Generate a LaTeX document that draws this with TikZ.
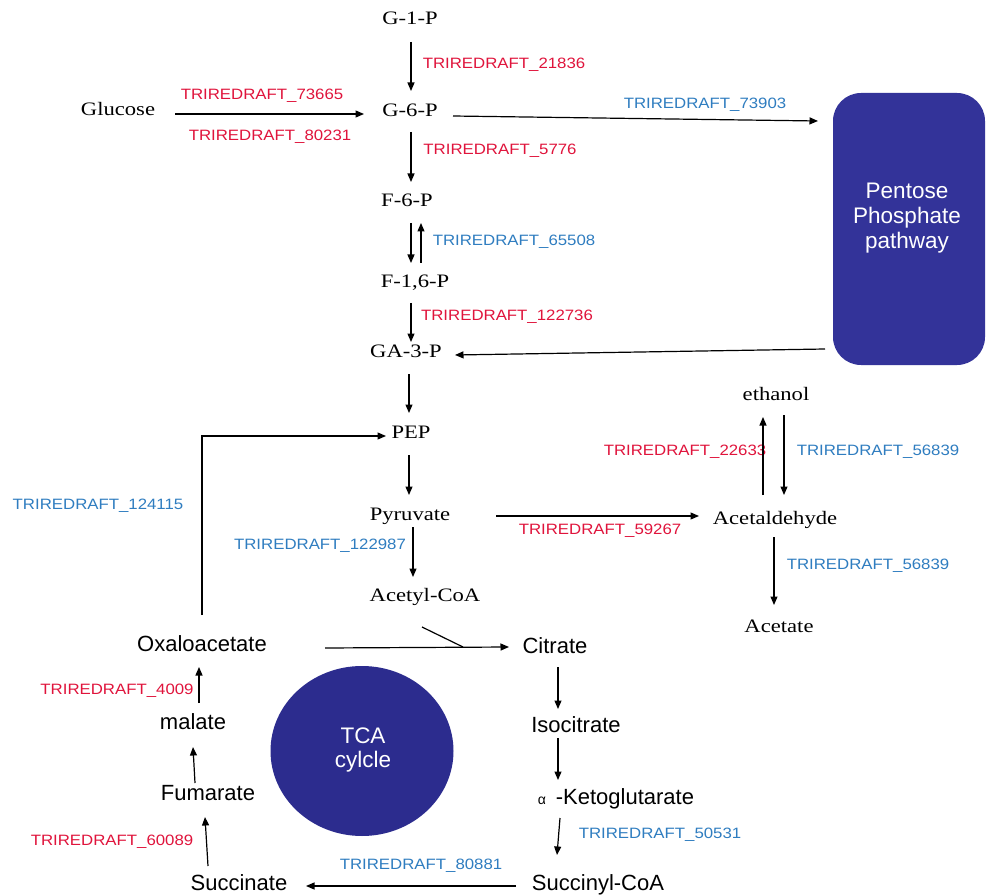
\documentclass[tikz,border=0pt]{standalone}
\usepackage{fontspec}
\usetikzlibrary{arrows.meta,shapes.geometric}
\newfontfamily\chemfont[FakeStretch=1.19]{Liberation Serif}
\newfontfamily\labfont[FakeStretch=1.12]{Liberation Sans}
\newfontfamily\namefont{Liberation Sans}
\definecolor{labred}{HTML}{E0143C}
\definecolor{labblue}{HTML}{2F7DC0}
\definecolor{boxblue}{HTML}{333399}
\definecolor{tcablue}{HTML}{2C2C8E}
\tikzset{
  chem/.style={inner sep=0pt, text height=12.5pt, text depth=4pt, font=\chemfont\fontsize{19}{21}\selectfont},
  sname/.style={inner sep=0pt, text height=15pt, text depth=4pt, font=\namefont\fontsize{22}{24}\selectfont},
  redlab/.style={inner sep=0pt, text=labred, font=\labfont\fontsize{15}{17}\selectfont},
  bluelab/.style={inner sep=0pt, text=labblue, font=\labfont\fontsize{15}{17}\selectfont},
  arr/.style={line width=1.2pt, -{Triangle[length=8.5pt,width=7pt]}},
  plainline/.style={line width=1.2pt},
  whitetext/.style={text=white, font=\namefont\fontsize{22.5}{26}\selectfont, align=center}
}
\begin{document}
\begin{tikzpicture}[x=1pt,y=-1pt]
\fill[white] (0,0) rectangle (986,896);
\useasboundingbox (0,0) rectangle (986,896);

% pathway boxes
\node[draw=none, fill=boxblue, rounded corners=28pt, minimum width=152pt, minimum height=272pt, inner sep=0pt] (ppp) at (909,229) {};
\node[whitetext, inner sep=0pt] (ppptext) at (907,218) {Pentose\\[-1pt]Phosphate\\[-1pt]pathway};
\node[ellipse, fill=tcablue, minimum width=183pt, minimum height=170pt, inner sep=0pt] (tca) at (362,751) {};
\node[whitetext, inner sep=0pt] (tcatext) at (363,750) {TCA\\[-2pt]cylcle};

% metabolites (serif)
\node[chem] (g1p) at (410,20) {G-1-P};
\node[chem] (glc) at (118,111) {Glucose};
\node[chem] (g6p) at (410,112) {G-6-P};
\node[chem] (f6p) at (407,202) {F-6-P};
\node[chem] (f16p) at (415,283) {F-1,6-P};
\node[chem] (ga3p) at (406,353) {GA-3-P};
\node[chem] (pep) at (411,434) {PEP};
\node[chem] (pyr) at (410,516) {Pyruvate};
\node[chem] (acoa) at (425,597) {Acetyl-CoA};
\node[chem] (eth) at (776,396) {ethanol};
\node[chem] (ald) at (775,520) {Acetaldehyde};
\node[chem] (ace) at (779,628) {Acetate};

% TCA metabolites (sans)
\node[sname] (oaa) at (202,646) {Oxaloacetate};
\node[sname] (cit) at (555,648) {Citrate};
\node[sname] (iso) at (576,727) {Isocitrate};
\node[sname] (akg) at (616,799) {{\fontsize{14}{16}\selectfont α}\, -Ketoglutarate};
\node[sname] (scoa) at (598,885) {Succinyl-CoA};
\node[sname] (suc) at (239,885) {Succinate};
\node[sname] (fum) at (208,795) {Fumarate};
\node[sname] (mal) at (193,724) {malate};

% enzyme labels
\node[redlab] (l21836) at (504,65) {TRIREDRAFT\_21836};
\node[redlab] (l73665) at (262,96) {TRIREDRAFT\_73665};
\node[redlab] (l80231) at (270,137) {TRIREDRAFT\_80231};
\node[bluelab] (l73903) at (705,105) {TRIREDRAFT\_73903};
\node[redlab] (l5776) at (500,151) {TRIREDRAFT\_5776};
\node[bluelab] (l65508) at (514,242) {TRIREDRAFT\_65508};
\node[redlab] (l122736) at (507,317) {TRIREDRAFT\_122736};
\node[bluelab] (l124115) at (98,506) {TRIREDRAFT\_124115};
\node[bluelab] (l122987) at (320,546) {TRIREDRAFT\_122987};
\node[redlab] (l59267) at (600,531) {TRIREDRAFT\_59267};
\node[redlab] (l22633) at (685,452) {TRIREDRAFT\_22633};
\node[bluelab] (l56839a) at (878,452) {TRIREDRAFT\_56839};
\node[bluelab] (l56839b) at (868,566) {TRIREDRAFT\_56839};
\node[redlab] (l4009) at (117,691) {TRIREDRAFT\_4009};
\node[redlab] (l60089) at (112,842) {TRIREDRAFT\_60089};
\node[bluelab] (l80881) at (421,866) {TRIREDRAFT\_80881};
\node[bluelab] (l50531) at (660,835) {TRIREDRAFT\_50531};

% glycolysis connectors
\draw[arr] ([shift={(1,22)}]g1p.center) -- ([shift={(1,-21)}]g6p.center);
\draw[arr] ([shift={(57,3)}]glc.center) -- ([shift={(-46,2)}]g6p.center);
\draw[arr] ([shift={(43,4)}]g6p.center) -- ([shift={(-91,-108)}]ppp.center);
\draw[arr] ([shift={(1,20)}]g6p.center) -- ([shift={(4,-20)}]f6p.center);
\draw[arr] ([shift={(4,21)}]f6p.center) -- ([shift={(-4,-20)}]f16p.center);
\draw[arr] ([shift={(6,-20)}]f16p.center) -- ([shift={(14,21)}]f6p.center);
\draw[arr] ([shift={(-4,20)}]f16p.center) -- ([shift={(5,-11)}]ga3p.center);
\draw[arr] ([shift={(-84,120)}]ppp.center) -- ([shift={(49,2)}]ga3p.center);
\draw[arr] ([shift={(3,21)}]ga3p.center) -- ([shift={(-2,-21)}]pep.center);
\draw[arr] ([shift={(0,-31)}]oaa.center) |- ([shift={(-25,2)}]pep.center);
\draw[arr] ([shift={(-2,21)}]pep.center) -- ([shift={(-1,-21)}]pyr.center);
\draw[arr] ([shift={(3,11)}]pyr.center) -- ([shift={(-12,-20)}]acoa.center);
\draw[arr] ([shift={(86,0)}]pyr.center) -- ([shift={(-76,-4)}]ald.center);
\draw[arr] ([shift={(-12,-25)}]ald.center) -- ([shift={(-13,21)}]eth.center);
\draw[arr] ([shift={(8,19)}]eth.center) -- ([shift={(9,-25)}]ald.center);
\draw[arr] ([shift={(-1,17)}]ald.center) -- ([shift={(-5,-23)}]ace.center);

% TCA connectors
\coordinate (mrg) at (463,647);
\draw[arr] ([shift={(123,2)}]oaa.center) -- ([shift={(-46,-1)}]cit.center);
\draw[plainline] ([shift={(-3,30)}]acoa.center) -- (mrg);
\draw[arr] ([shift={(3,19)}]cit.center) -- ([shift={(-18,-18)}]iso.center);
\draw[arr] ([shift={(-18,11)}]iso.center) -- ([shift={(-58,-19)}]akg.center);
\draw[arr] ([shift={(-56,19)}]akg.center) -- ([shift={(-41,-30)}]scoa.center);
\draw[arr] ([shift={(-82,1)}]scoa.center) -- ([shift={(67,1)}]suc.center);
\draw[arr] ([shift={(-31,-19)}]suc.center) -- ([shift={(-3,22)}]fum.center);
\draw[arr] ([shift={(-13,-12)}]fum.center) -- ([shift={(0,23)}]mal.center);
\draw[arr] ([shift={(6,-21)}]mal.center) -- ([shift={(-3,21)}]oaa.center);
\end{tikzpicture}
\end{document}
